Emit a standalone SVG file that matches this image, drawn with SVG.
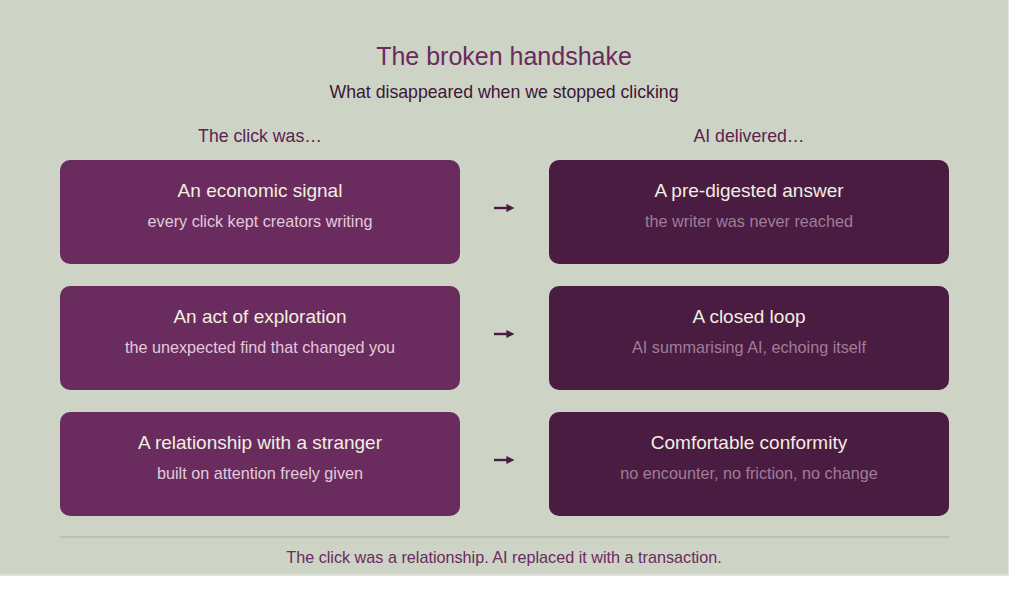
<svg xmlns="http://www.w3.org/2000/svg" width="1024" height="590" viewBox="0 0 1024 590">
<defs>
<style>
text{font-family:"Liberation Sans",Arial,sans-serif;text-anchor:middle}
.title{font-size:25px;fill:#6a2a5e}
.sub{font-size:17.7px;fill:#3f1538}
.col{font-size:17.7px;fill:#5a2350}
.boxL{fill:#6a2c5e}
.boxR{fill:#4a1c42}
.bt{font-size:19px;fill:#f2eee0}
.bsL{font-size:16.2px;fill:#e2cadc}
.bsR{font-size:16.2px;fill:#a07d99}
.foot{font-size:16.2px;fill:#6a2a5e}
.arr{stroke:#4a1c42;stroke-width:2.4;fill:none}
</style>
<marker id="ah" viewBox="0 0 10 10" refX="2" refY="5" markerWidth="3.4" markerHeight="3.4" orient="auto" markerUnits="strokeWidth">
<path d="M0,0 L10,5 L0,10 z" fill="#4a1c42"/>
</marker>
</defs>
<rect x="0" y="0" width="1024" height="590" fill="#ffffff"/>
<rect x="0" y="0" width="1009" height="576" fill="#dfe4da"/>
<rect x="0" y="0" width="1008" height="574" fill="#cdd4c5"/>
<text class="title" x="504" y="65">The broken handshake</text>
<text class="sub" x="504" y="98">What disappeared when we stopped clicking</text>
<text class="col" x="260" y="142">The click was…</text>
<text class="col" x="749" y="142">AI delivered…</text>
<g id="left1"><rect class="boxL" x="60" y="160" width="400" height="104" rx="10"/><text class="bt" x="260" y="197">An economic signal</text><text class="bsL" x="260" y="227">every click kept creators writing</text></g>
<g id="left2"><rect class="boxL" x="60" y="286" width="400" height="104" rx="10"/><text class="bt" x="260" y="323">An act of exploration</text><text class="bsL" x="260" y="353">the unexpected find that changed you</text></g>
<g id="left3"><rect class="boxL" x="60" y="412" width="400" height="104" rx="10"/><text class="bt" x="260" y="449">A relationship with a stranger</text><text class="bsL" x="260" y="479">built on attention freely given</text></g>
<g id="right1"><rect class="boxR" x="549" y="160" width="400" height="104" rx="10"/><text class="bt" x="749" y="197">A pre-digested answer</text><text class="bsR" x="749" y="227">the writer was never reached</text></g>
<g id="right2"><rect class="boxR" x="549" y="286" width="400" height="104" rx="10"/><text class="bt" x="749" y="323">A closed loop</text><text class="bsR" x="749" y="353">AI summarising AI, echoing itself</text></g>
<g id="right3"><rect class="boxR" x="549" y="412" width="400" height="104" rx="10"/><text class="bt" x="749" y="449">Comfortable conformity</text><text class="bsR" x="749" y="479">no encounter, no friction, no change</text></g>
<g id="connectors">
<path class="arr" d="M494,208 L508,208" marker-end="url(#ah)"/>
<path class="arr" d="M494,334 L508,334" marker-end="url(#ah)"/>
<path class="arr" d="M494,460 L508,460" marker-end="url(#ah)"/>
</g>
<line x1="60" y1="537" x2="949" y2="537" stroke="#b9b6bd" stroke-width="1.5"/>
<text class="foot" x="504" y="563">The click was a relationship. AI replaced it with a transaction.</text>
</svg>
